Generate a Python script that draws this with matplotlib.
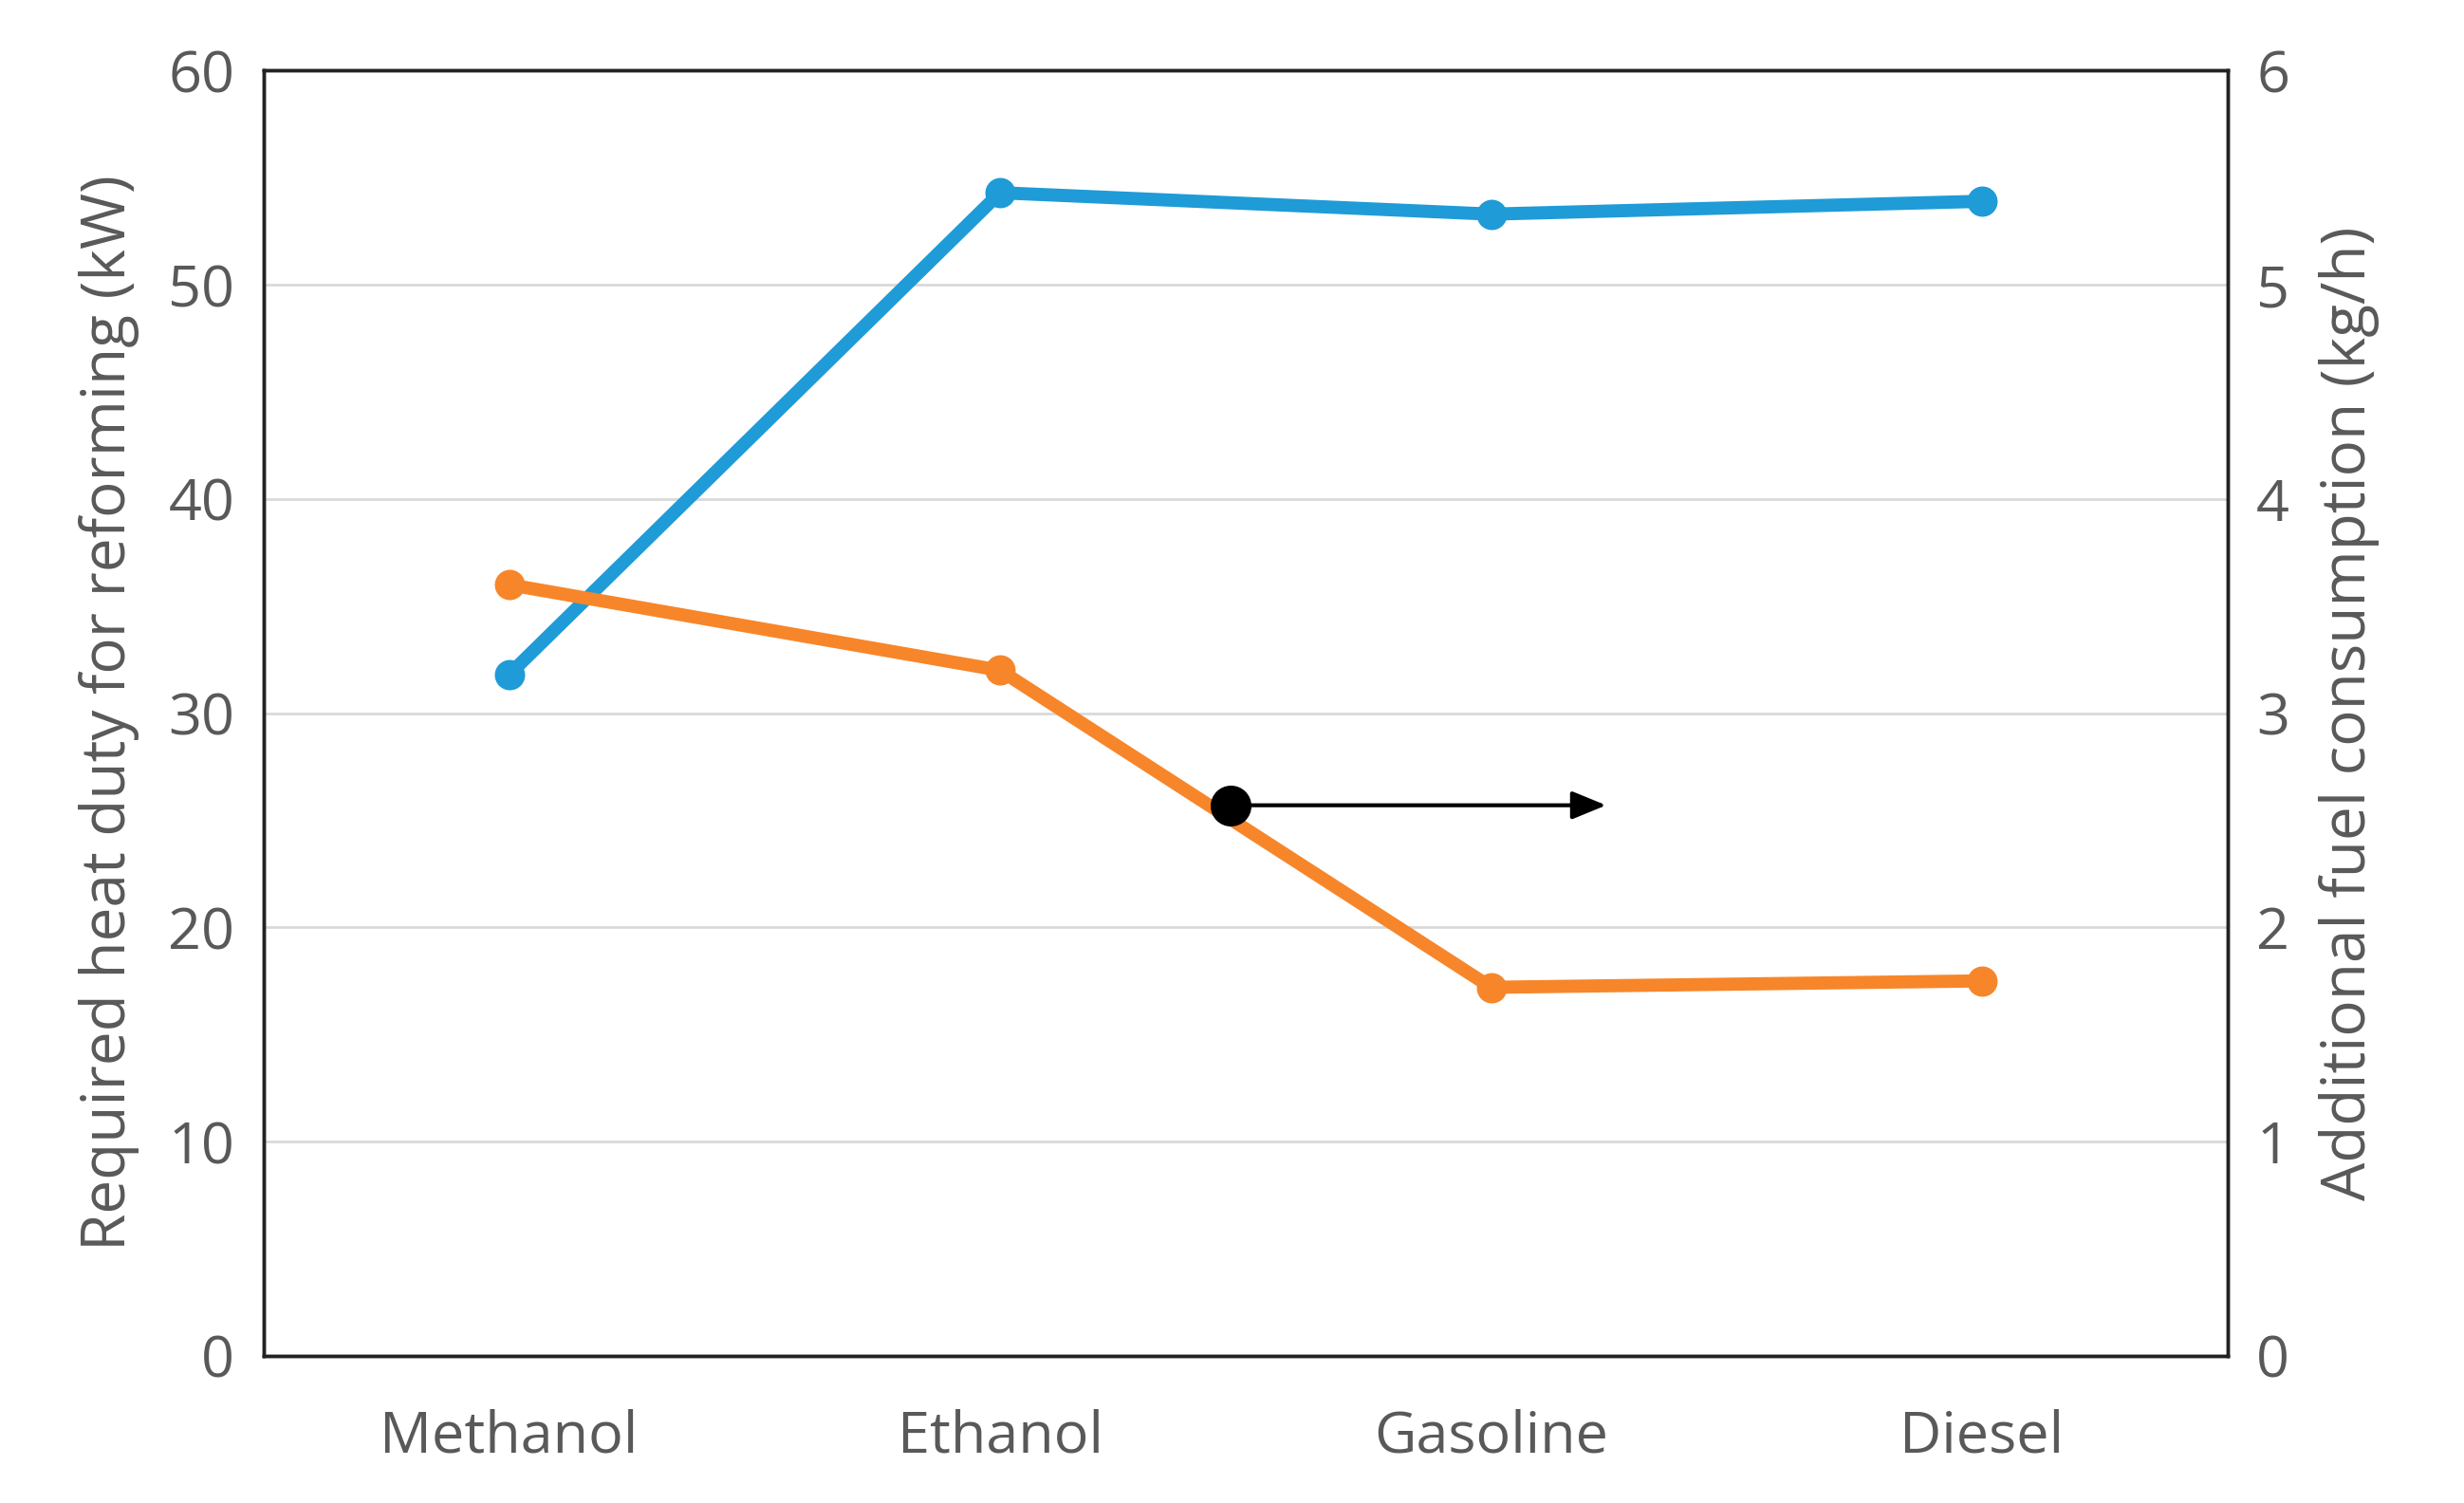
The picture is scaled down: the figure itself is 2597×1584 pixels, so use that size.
import matplotlib
matplotlib.use("Agg")
import matplotlib.pyplot as plt

categories = ["Methanol", "Ethanol", "Gasoline", "Diesel"]
heat_duty = [31.8, 54.3, 53.3, 53.9]
fuel_cons = [3.6, 3.2, 1.72, 1.75]

plt.rcParams['font.family'] = ['Open Sans', 'DejaVu Sans']
gray = '#595959'
fig = plt.figure(figsize=(25.97, 15.84), dpi=100)
ax = fig.add_axes([0.107, 0.098, 0.797, 0.855])
ax2 = ax.twinx()
x = list(range(len(categories)))
ax.plot(x, heat_duty, color='#1f9bd7', lw=10, marker='o', ms=22, zorder=3)
ax2.plot(x, fuel_cons, color='#f7862a', lw=10, marker='o', ms=22, zorder=3)
ax.set_xlim(-0.5, 3.5)
ax.set_ylim(0, 60)
ax2.set_ylim(0, 6)
ax.set_yticks(range(0, 61, 10))
ax2.set_yticks(range(0, 7))
ax.set_xticks(x)
ax.set_xticklabels(categories)
ax.yaxis.grid(True, color='#d9d9d9', lw=2)
ax.set_axisbelow(True)
for a in (ax, ax2):
    a.tick_params(length=0, labelsize=44, labelcolor=gray, pad=22)
    for s in a.spines.values():
        s.set_color('#222222'); s.set_linewidth(2.5)
ax.tick_params(axis='x', pad=40)
ax.set_ylabel("Required heat duty for reforming (kW)", fontsize=46, color=gray, labelpad=22)
ax2.set_ylabel("Additional fuel consumption (kg/h)", fontsize=46, color=gray, labelpad=22)
ax2.annotate("", xy=(2.24, 2.57), xytext=(1.47, 2.57),
             arrowprops=dict(arrowstyle='-|>,head_length=2.2,head_width=0.9', color='black', lw=3), zorder=5)
ax2.plot([1.47], [2.57], 'o', color='black', ms=30, zorder=6)
fig.savefig("out.png", dpi=100)
